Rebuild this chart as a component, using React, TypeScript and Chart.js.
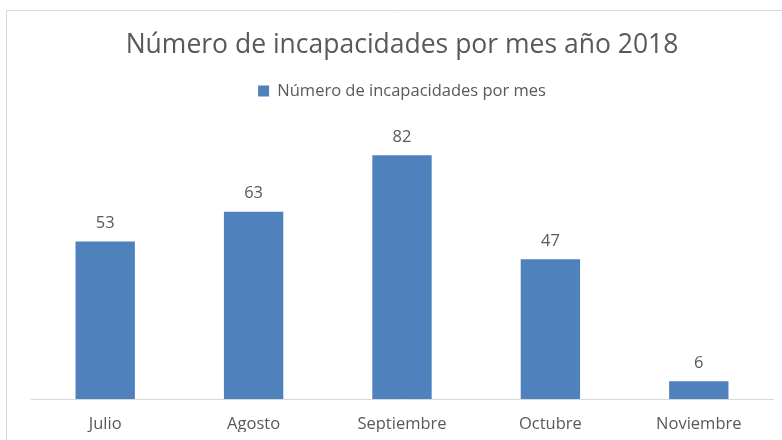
import React, { useEffect, useRef } from "react";
import { Chart, registerables } from "chart.js";

Chart.register(...registerables);

const chartTitle = "Número de incapacidades por mes año 2018";
const seriesName = "Número de incapacidades por mes";
const categories = ["Julio", "Agosto", "Septiembre", "Octubre", "Noviembre"];
const values = [53, 63, 82, 47, 6];

const FONT = "'Open Sans', Lato, sans-serif";
const TEXT = "#595959";

const frame = {
  id: "frame",
  beforeDraw(chart: any) {
    const ctx = chart.ctx;
    ctx.save();
    ctx.fillStyle = "#ffffff";
    ctx.fillRect(0, 0, chart.width, chart.height);
    ctx.strokeStyle = "#d9d9d9";
    ctx.lineWidth = 1;
    ctx.beginPath();
    ctx.moveTo(6.5, chart.height + 5);
    ctx.lineTo(6.5, 10.5);
    ctx.lineTo(chart.width + 5, 10.5);
    ctx.stroke();
    ctx.restore();
  },
};

const labelsPlugin = {
  id: "valueLabels",
  afterDatasetsDraw(chart: any) {
    const ctx = chart.ctx;
    ctx.save();
    ctx.fillStyle = TEXT;
    ctx.font = `16.5px ${FONT}`;
    ctx.textAlign = "center";
    ctx.textBaseline = "alphabetic";
    chart.data.datasets.forEach((ds: any, i: number) => {
      const meta = chart.getDatasetMeta(i);
      meta.data.forEach((bar: any, j: number) => {
        ctx.fillText(String(ds.data[j]), bar.x, bar.y - 13.5);
      });
    });
    ctx.restore();
  },
};

export default function App() {
  const ref = useRef<HTMLCanvasElement>(null);
  useEffect(() => {
    document.body.style.margin = "0";
    const chart = new Chart(ref.current as HTMLCanvasElement, {
      type: "bar",
      data: {
        labels: categories,
        datasets: [
          {
            label: seriesName,
            data: values,
            backgroundColor: "#4F81BD",
            borderWidth: 0,
            barPercentage: 0.4,
            categoryPercentage: 1,
          },
        ],
      },
      options: {
        animation: false,
        responsive: false,
        layout: { padding: { left: 31, right: 9, top: 0, bottom: 8 } },
        plugins: {
          title: {
            display: true,
            text: chartTitle,
            color: TEXT,
            font: { family: FONT, size: 26.5, weight: "normal" },
            padding: { top: 29.5, bottom: 18 },
          },
          legend: {
            display: true,
            labels: {
              color: TEXT,
              font: { family: FONT, size: 16.5 },
              boxWidth: 11,
              boxHeight: 11,
              padding: 3.5,
            },
          },
          tooltip: { enabled: false },
        },
        scales: {
          x: {
            grid: { display: false, drawTicks: false },
            border: { display: true, color: "#d9d9d9", width: 1 },
            ticks: { color: TEXT, font: { family: FONT, size: 16.5 }, padding: 15 },
            afterFit: (scale: any) => {
              scale.height = 33;
            },
          },
          y: {
            display: false,
            min: 0,
            max: 97.5,
          },
        },
      },
      plugins: [frame, labelsPlugin],
    });
    return () => chart.destroy();
  }, []);
  return <canvas ref={ref} width={782} height={440} style={{ display: "block" }} />;
}
